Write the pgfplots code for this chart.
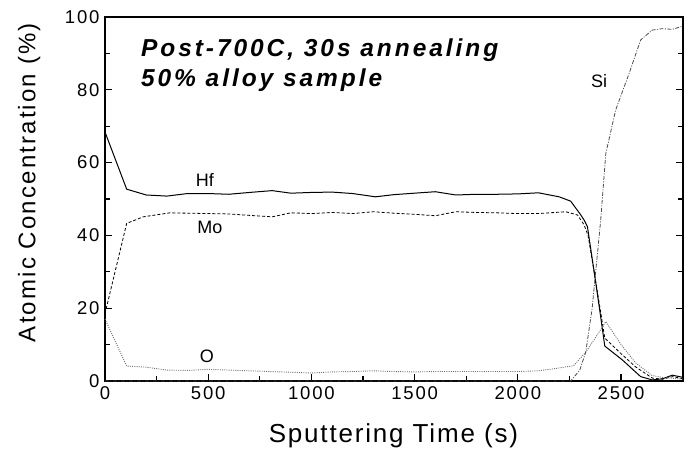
\documentclass[border=0pt]{standalone}
\usepackage{fontspec}
\setmainfont{Liberation Sans}
\newfontfamily\titlefont[LetterSpace=12]{Liberation Sans}
\newfontfamily\xlabfont[LetterSpace=7]{Liberation Sans}
\newfontfamily\ylabfont[LetterSpace=9]{Liberation Sans}
\newfontfamily\tickfont[LetterSpace=10]{Liberation Sans}
\usepackage{pgfplots}
\pgfplotsset{compat=1.18}

% Hf
\pgfplotstableread{
x y
0 68.4
105 52.7
200 51.1
300 50.8
400 51.5
500 51.5
600 51.3
700 51.8
810 52.3
900 51.6
1000 51.8
1100 51.9
1200 51.5
1310 50.6
1400 51.2
1500 51.6
1600 52.0
1700 51.1
1800 51.3
1900 51.3
2000 51.4
2100 51.7
2200 50.6
2256 49.4
2305 45.6
2321 44.2
2337 42.4
2374 28.3
2401 17.7
2421 9.6
2506 5.8
2595 1.2
2651 0.3
2700 0.6
2748 1.6
2800 1.0
}\hf

% Mo
\pgfplotstableread{
x y
0 18.5
105 43.3
185 45.1
314 46.2
400 46.1
500 46.0
600 45.9
700 45.5
810 45.1
900 46.2
1000 46.0
1100 46.3
1200 46.0
1300 46.5
1400 46.1
1500 45.8
1600 45.4
1700 46.5
1800 46.3
1900 46.2
2000 46.0
2100 46.0
2232 46.5
2289 45.6
2320 43.0
2340 40.0
2374 28.5
2401 19.0
2421 11.8
2500 7.5
2570 3.9
2651 0.8
2700 0.5
2750 1.2
2800 0.6
}\mo

% O
\pgfplotstableread{
x y
0 17.0
105 4.1
200 3.8
300 3.0
400 2.9
500 3.2
600 3.0
700 2.8
800 2.6
900 2.4
1000 2.2
1100 2.5
1200 2.6
1300 2.8
1400 2.6
1500 2.5
1600 2.6
1700 2.6
1800 2.6
1900 2.6
2000 2.6
2100 2.8
2167 3.3
2270 4.2
2330 8.0
2400 14.0
2426 16.3
2500 10.0
2570 5.0
2650 1.5
2700 1.0
2800 0.5
}\ox

% Si
\pgfplotstableread{
x y
0 0.0
500 0.0
1000 0.0
1500 0.0
2000 0.0
2256 0.0
2300 3.0
2329 8.0
2360 20.0
2374 28.3
2401 44.0
2426 62.5
2474 74.5
2539 84.5
2595 93.7
2651 96.4
2700 96.8
2748 96.6
2800 97.5
}\si

\begin{document}
\begin{tikzpicture}
\begin{axis}[
  scale only axis,
  width=578pt, height=364pt,
  xmin=0, xmax=2800, ymin=0, ymax=100,
  xtick={0,500,...,2500}, ytick={0,20,...,100},
  minor x tick num=1, minor y tick num=1,
  tick align=inside,
  xtick pos=bottom, ytick pos=both,
  major tick length=7pt, minor tick length=5pt,
  every tick/.style={black, line width=1.2pt},
  axis line style={line width=1.4pt},
  clip=false,
  /pgf/number format/assume math mode=true,
  /pgf/number format/1000 sep={},
  tick label style={font=\tickfont\fontsize{18.5}{22}\selectfont},
  yticklabel style={xshift=-2pt},
  xticklabel style={yshift=-2pt},
  xlabel={\xlabfont\fontsize{26}{30}\selectfont Sputtering Time (s)},
  ylabel={\ylabfont\fontsize{24}{28}\selectfont Atomic Concentration (\%)},
  xlabel style={at={(axis description cs:0.499,-0.170)}, anchor=base},
  ylabel style={at={(axis description cs:-0.131,0.545)}, anchor=center},
]
\addplot[black, line width=1pt] table {\hf};
\addplot[black, line width=0.8pt, dash pattern=on 3pt off 2pt] table {\mo};
\addplot[black!55, line width=0.9pt, dash pattern=on 1pt off 1.2pt] table {\ox};
\addplot[black!70, line width=0.8pt, dash pattern=on 4pt off 1.5pt on 1pt off 1.5pt] table {\si};

\node[anchor=base, font=\fontsize{18}{20}\selectfont] at (axis cs:484,53.5) {Hf};
\node[anchor=base, font=\fontsize{18}{20}\selectfont] at (axis cs:508,40.5) {Mo};
\node[anchor=base, font=\fontsize{18}{20}\selectfont] at (axis cs:493,5.2) {O};
\node[anchor=base, font=\fontsize{18}{20}\selectfont] at (axis cs:2394,80.5) {Si};

\node[anchor=base west, inner sep=0pt, font=\titlefont\bfseries\itshape\fontsize{24.5}{28}\selectfont] at (axis cs:174,89.1) {Post-700C, 30s annealing};
\node[anchor=base west, inner sep=0pt, font=\titlefont\bfseries\itshape\fontsize{24.5}{28}\selectfont] at (axis cs:174,80.8) {50\% alloy sample};

\path (rel axis cs:{-105/578},{-68/364}) -- (rel axis cs:{1+11/578},{1+17/364});
\end{axis}
\end{tikzpicture}
\end{document}
